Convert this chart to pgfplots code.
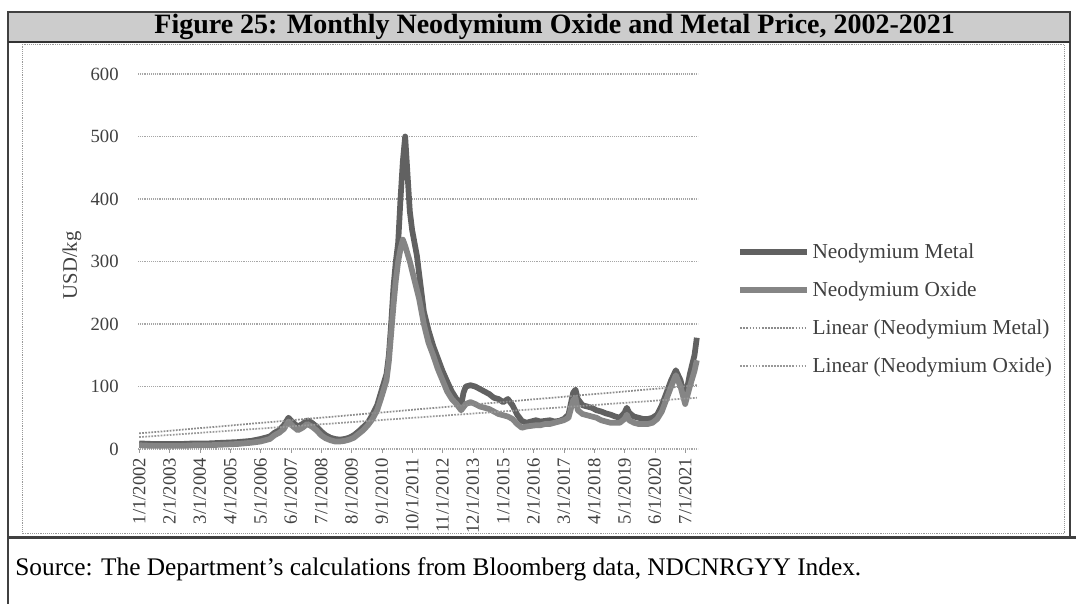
\documentclass[border=0pt]{standalone}
\usepackage{pgfplots}
\pgfplotsset{compat=1.18}
\usepackage{pgfplotstable}
\usepackage{fontspec}
\setmainfont{Liberation Serif}
\pgfplotstableread{
i v
0 9
6 8
12 8
18 8
24 9
30 9
36 10
42 11
48 13
52 16
56 20
58 26
60 30
62 38
64 50
66 42
68 36
70 40
72 46
74 42
76 36
78 28
80 22
82 18
84 16
86 15
88 16
90 18
92 22
94 28
96 35
98 42
100 55
102 70
104 95
106 120
107 150
108 200
109 260
110 300
111 330
112 400
113 460
114 500
115 440
116 380
117 350
118 330
119 310
120 280
121 250
122 220
124 190
126 165
128 145
130 125
132 108
134 92
136 80
138 70
139 90
140 100
142 102
144 100
146 96
148 92
150 88
152 82
154 80
156 75
158 80
160 70
162 55
164 45
166 42
168 44
170 46
172 44
174 45
176 46
178 44
180 45
182 48
184 55
186 90
187 95
188 80
190 70
192 68
194 66
196 62
198 60
200 57
202 55
204 52
206 50
208 58
209 66
210 58
212 52
214 50
216 48
218 48
220 50
222 55
224 70
226 90
228 110
230 126
232 110
234 80
236 120
238 150
239 178
}\metal
\pgfplotstableread{
i v
0 6
6 5
12 5
18 5
24 6
30 6
36 7
42 8
48 10
52 12
56 16
58 22
60 26
62 32
64 44
66 36
68 30
70 34
72 40
74 36
76 30
78 22
80 17
82 14
84 12
86 12
88 13
90 15
92 18
94 24
96 30
98 38
100 48
102 62
104 85
106 110
107 140
108 185
109 230
110 270
111 300
112 320
113 335
114 325
116 300
118 270
120 240
122 200
124 170
126 150
128 128
130 110
132 92
134 80
136 72
138 62
140 72
142 75
144 72
146 68
148 66
150 64
152 60
154 56
156 54
158 52
160 48
162 40
164 34
166 36
168 37
170 38
172 38
174 40
176 40
178 42
180 44
182 46
184 50
186 78
187 82
188 62
190 56
192 54
194 52
196 50
198 46
200 44
202 42
204 42
206 42
208 48
209 55
210 46
212 42
214 40
216 40
218 40
220 42
222 48
224 60
226 80
228 100
230 118
232 100
234 72
236 100
238 125
239 142
}\oxide
\begin{document}
\begin{tikzpicture}
\path[use as bounding box, fill=white] (0,0) rectangle (807pt,453pt);
\fill[black!20] (6pt,421.5pt) rectangle (802.5pt,444pt);
\draw[line width=1.2pt, black!75] (6pt,0pt) -- (6pt,444pt) -- (802.5pt,444pt) -- (802.5pt,50pt);
\draw[line width=1pt, black!80] (6pt,421.5pt) -- (802.5pt,421.5pt);
\node[font=\fontsize{21}{24}\selectfont\bfseries] at (416pt,432.5pt) {Figure 25: Monthly Neodymium Oxide and Metal Price, 2002-2021};
\draw[densely dotted, black!40] (16.5pt,53pt) rectangle (798pt,420pt);
\draw[line width=2pt, black!75] (6pt,50pt) -- (807pt,50pt);
\node[anchor=west, font=\fontsize{19}{22}\selectfont] at (8pt,26pt) {Source: The Department’s calculations from Bloomberg data, NDCNRGYY Index.};
\begin{axis}[
  at={(103.5pt,116.25pt)}, anchor=south west,
  width=420pt, height=281.25pt, scale only axis,
  xmin=-0.5, xmax=239.5, ymin=0, ymax=600,
  ytick={0,100,...,600},
  ymajorgrids, grid style={densely dotted, black!35, line width=0.8pt},
  axis line style={draw=none},
  ytick style={draw=none},
  xtick pos=lower, ytick pos=left,
  xtick={0,13,...,234},
  xticklabels={1/1/2002,2/1/2003,3/1/2004,4/1/2005,5/1/2006,6/1/2007,7/1/2008,8/1/2009,9/1/2010,10/1/2011,11/1/2012,12/1/2013,1/1/2015,2/1/2016,3/1/2017,4/1/2018,5/1/2019,6/1/2020,7/1/2021},
  xtick style={black!40}, major tick length=3pt, tick align=outside,
  xticklabel style={rotate=90, anchor=east, font=\fontsize{14}{16}\selectfont, text=black!75},
  yticklabel style={font=\fontsize{14}{16}\selectfont, text=black!75, xshift=-8pt},
  /pgf/number format/assume math mode=true,
  ylabel={USD/kg},
  ylabel style={at={(axis description cs:-0.118,0.49)}, anchor=center, font=\fontsize{15.5}{17}\selectfont, text=black!75},
  legend style={at={(axis description cs:1.07,0.373)}, anchor=west, draw=none, fill=none,
    font=\fontsize{16}{18}\selectfont, text=black!75, row sep=12pt, inner sep=0pt},
  legend cell align=left,
  legend image code/.code={\draw[#1] (0pt,0pt) -- (50pt,0pt);},
  clip=false,
]
\addplot[black!62, line width=4.3pt, line join=round] table[x=i, y=v] {\metal};
\addlegendentry{Neodymium Metal}
\addplot[black!48, line width=4.3pt, line join=round] table[x=i, y=v] {\oxide};
\addlegendentry{Neodymium Oxide}
\addplot[black!45, densely dotted, line width=1.3pt] coordinates {(0,25) (239,102)};
\addlegendentry{Linear (Neodymium Metal)}
\addplot[black!40, densely dotted, line width=1.3pt] coordinates {(0,19) (239,82)};
\addlegendentry{Linear (Neodymium Oxide)}
\end{axis}
\end{tikzpicture}
\end{document}
